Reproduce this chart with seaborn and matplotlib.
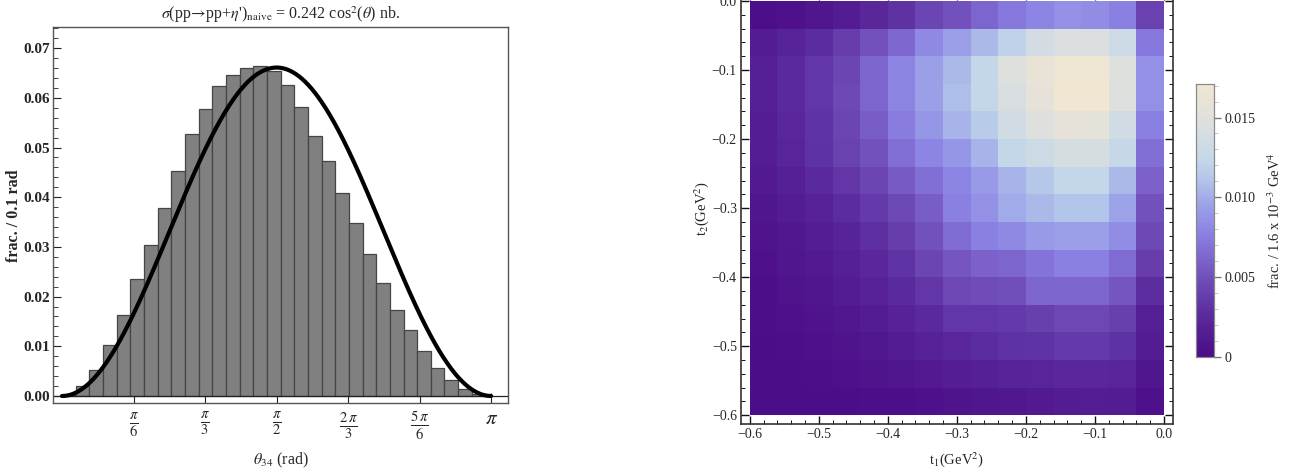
import numpy as np
import pandas as pd
import matplotlib
matplotlib.use("Agg")
import matplotlib.pyplot as plt
import seaborn as sns
from matplotlib.colors import LinearSegmentedColormap
from matplotlib.ticker import MultipleLocator, FixedLocator

# ---------------- data ----------------
# histogram of theta_34, bins of 0.1 rad (last bin ends at pi)
theta_edges = list(np.round(np.arange(0.0, 3.15, 0.1), 1)) + [np.pi]
theta_frac = [0.0002, 0.0021, 0.0053, 0.0102, 0.0164, 0.0235, 0.0304, 0.0379,
              0.0453, 0.0528, 0.0577, 0.0623, 0.0646, 0.0661, 0.0664, 0.0654,
              0.0625, 0.0582, 0.0523, 0.0472, 0.0408, 0.0348, 0.0285, 0.0228,
              0.0174, 0.0132, 0.0091, 0.0056, 0.0032, 0.0014, 0.0005, 0.0001]
curve_amplitude = 0.0661  # peak of the naive cos^2 model curve

x_tick_vals = [np.pi / 6, np.pi / 3, np.pi / 2, 2 * np.pi / 3, 5 * np.pi / 6, np.pi]
x_tick_labels = [r'$\frac{\pi}{6}$', r'$\frac{\pi}{3}$', r'$\frac{\pi}{2}$',
                 r'$\frac{2\,\pi}{3}$', r'$\frac{5\,\pi}{6}$', r'$\pi$']
y_tick_vals = [0.00, 0.01, 0.02, 0.03, 0.04, 0.05, 0.06, 0.07]

# 2D distribution in t1 (columns, -0.6 -> 0) and t2 (rows, 0 -> -0.6), units of 1e-3
t_edges = list(np.round(np.arange(-0.6, 0.001, 0.04), 2))
t2_matrix_e3 = [
    [0.3, 0.5, 0.9, 1.4, 2.4, 3.1, 4.3, 5.1, 6.2, 7.2, 8.0, 8.6, 8.4, 7.7, 4.1],
    [1.4, 2.1, 2.7, 3.8, 5.1, 6.3, 8.2, 9.4, 10.6, 12.0, 13.7, 14.4, 14.4, 13.0, 7.2],
    [1.7, 2.6, 3.4, 4.4, 6.2, 7.9, 9.4, 10.6, 12.3, 14.7, 16.1, 16.8, 16.8, 14.7, 8.6],
    [1.7, 2.6, 3.4, 4.6, 6.2, 7.9, 9.4, 10.8, 12.3, 14.2, 15.7, 17.1, 17.1, 14.7, 8.6],
    [1.5, 2.4, 3.2, 4.3, 5.8, 7.5, 8.9, 10.3, 11.5, 13.5, 14.7, 15.7, 15.6, 13.5, 7.7],
    [1.5, 2.2, 3.1, 4.1, 5.1, 6.8, 8.0, 8.9, 10.3, 12.3, 13.0, 14.0, 14.0, 12.5, 6.8],
    [1.2, 1.7, 2.6, 3.4, 4.4, 5.6, 6.8, 8.0, 9.1, 10.3, 11.3, 12.3, 12.3, 10.6, 6.0],
    [0.9, 1.4, 1.9, 2.7, 3.6, 4.6, 5.8, 7.7, 8.6, 9.9, 10.6, 11.1, 11.1, 9.6, 5.1],
    [0.7, 1.0, 1.5, 2.1, 2.9, 3.8, 5.1, 6.5, 7.7, 8.2, 9.1, 9.4, 9.4, 8.4, 4.6],
    [0.5, 0.9, 1.2, 1.7, 2.4, 3.2, 4.3, 5.3, 6.0, 6.2, 7.0, 7.7, 7.7, 6.5, 3.8],
    [0.3, 0.7, 0.9, 1.4, 1.9, 2.6, 3.4, 4.5, 4.8, 5.0, 6.2, 6.2, 6.2, 5.3, 2.8],
    [0.3, 0.5, 0.7, 1.0, 1.4, 1.9, 2.6, 3.4, 3.4, 3.6, 4.0, 4.5, 4.5, 4.0, 1.6],
    [0.2, 0.3, 0.5, 0.7, 1.0, 1.4, 1.9, 2.4, 2.7, 3.1, 3.2, 3.6, 3.6, 3.1, 1.4],
    [0.2, 0.2, 0.3, 0.5, 0.7, 0.9, 1.2, 1.5, 1.7, 2.1, 2.2, 2.4, 2.4, 2.2, 0.9],
    [0.2, 0.2, 0.2, 0.2, 0.3, 0.3, 0.5, 0.7, 0.9, 1.0, 1.2, 1.4, 1.5, 1.4, 0.5],
]
t_tick_vals = [-0.6, -0.5, -0.4, -0.3, -0.2, -0.1, 0.0]
cbar_max = 0.0171
cbar_ticks = [0, 0.005, 0.010, 0.015]
cbar_tick_labels = ['0', '0.005', '0.010', '0.015']

# ---------------- style ----------------
sns.set_theme(style="white")
plt.rcParams['font.family'] = ['Liberation Serif', 'DejaVu Serif']
plt.rcParams['mathtext.fontset'] = 'stix'
plt.rcParams['axes.unicode_minus'] = True

W, H = 1299, 476
fig = plt.figure(figsize=(W / 100, H / 100), dpi=100)

frame_col = '#555555'

# ---------------- left: histogram ----------------
axL = fig.add_axes([53 / W, (H - 403.3) / H, (508 - 53) / W, (403.3 - 27.3) / H])
centers = [(a + b) / 2 for a, b in zip(theta_edges[:-1], theta_edges[1:])]
sns.histplot(x=centers, weights=theta_frac, bins=theta_edges, stat='count',
             color='#808080', edgecolor='#454545', linewidth=0.9, alpha=1.0, ax=axL)
theta_grid = np.linspace(0, np.pi, 400)
sns.lineplot(x=theta_grid, y=curve_amplitude * np.sin(theta_grid) ** 2,
             color='black', linewidth=3.0, ax=axL)
axL.axhline(0, color='#222222', linewidth=0.9, zorder=1)
axL.set_xlim(-0.066, 3.265)
axL.set_ylim(-0.00147, 0.0742)
axL.set_xticks(x_tick_vals)
axL.set_xticklabels(x_tick_labels, fontsize=15)
axL.set_yticks(y_tick_vals)
axL.set_yticklabels([f'{v:.2f}' for v in y_tick_vals], fontsize=11, fontweight='bold')
axL.yaxis.set_minor_locator(MultipleLocator(0.002))
axL.tick_params(axis='y', which='major', direction='in', length=6, width=0.8,
                color='#222222', left=True, right=False, pad=2)
axL.tick_params(axis='y', which='minor', direction='in', length=3.5, width=0.6,
                color='#222222', left=True, right=False)
axL.tick_params(axis='x', which='major', direction='in', length=7, width=0.8,
                color='#222222', bottom=True, top=False, pad=5)
axL.set_xlabel(r'$\theta_{34}$ (rad)', fontsize=11.5)
axL.xaxis.set_label_coords(0.5, -0.125)
axL.set_ylabel('frac. / 0.1 rad', fontsize=11.5, fontweight='bold')
axL.yaxis.set_label_coords(-0.068, 0.5)
axL.set_title(r"$\sigma$(pp$\!\rightarrow\!$pp+$\eta$')$_{\rm naive}$ = 0.242 cos$^2$($\theta$) nb.",
              fontsize=11.5, pad=6)
for s in axL.spines.values():
    s.set_color(frame_col)
    s.set_linewidth(1.0)

# ---------------- right: 2D heatmap ----------------
cmap = LinearSegmentedColormap.from_list('mma_purple', [
    (0.00, '#4b0c87'), (0.15, '#5a2a9c'), (0.30, '#7352bd'), (0.45, '#8a80e2'),
    (0.55, '#9b9fe8'), (0.65, '#b2c5ea'), (0.72, '#c3d7e8'), (0.85, '#dcdfdf'),
    (1.00, '#f0e6d2')])

df = pd.DataFrame(np.array(t2_matrix_e3) * 1e-3)
top_px = 1 - 0.315 * 27.58
axR = fig.add_axes([741 / W, (H - 424) / H, (1172.7 - 741) / W, (424 - top_px) / H])
cax = fig.add_axes([1196.3 / W, (H - 357) / H, 18 / W, 273 / H])
sns.heatmap(df, ax=axR, cmap=cmap, vmin=0, vmax=cbar_max, cbar=True, cbar_ax=cax,
            xticklabels=False, yticklabels=False, linewidths=0)

n = len(t_edges) - 1
step = 0.04


def pos_x(t):
    return (t - t_edges[0]) / step


def pos_y(t):
    return (t_edges[-1] - t) / step


axR.set_xlim(-0.315, n + 0.315)
axR.set_ylim(n + 0.315, -0.315)
axR.xaxis.set_major_locator(FixedLocator([pos_x(t) for t in t_tick_vals]))
axR.xaxis.set_minor_locator(FixedLocator([pos_x(t) for t in np.arange(-0.6, 0.001, 0.02)]))
axR.yaxis.set_major_locator(FixedLocator([pos_y(t) for t in t_tick_vals]))
axR.yaxis.set_minor_locator(FixedLocator([pos_y(t) for t in np.arange(-0.6, 0.001, 0.02)]))
lab = [f'{t:.1f}'.replace('-', '\u2212') if t != 0 else '0.0' for t in t_tick_vals]
axR.set_xticklabels(lab, fontsize=10)
axR.set_yticklabels(lab, fontsize=10, rotation=0)
axR.tick_params(which='major', direction='in', length=6, width=1.0, color='#111111',
                bottom=True, top=True, left=True, right=True, pad=3)
axR.tick_params(which='minor', direction='in', length=3, width=0.7, color='#111111',
                bottom=True, top=True, left=True, right=True)
axR.set_xlabel(r't$_1$(GeV$^2$)', fontsize=10.5)
axR.xaxis.set_label_coords(0.5, -0.061)
axR.set_ylabel(r't$_2$(GeV$^2$)', fontsize=10.5)
axR.yaxis.set_label_coords(-0.069, 0.5)
for s in axR.spines.values():
    s.set_visible(True)
    s.set_color('#333333')
    s.set_linewidth(1.2)

cax.set_yticks(cbar_ticks)
cax.set_yticklabels(cbar_tick_labels, fontsize=10)
cax.yaxis.set_minor_locator(MultipleLocator(0.001))
cax.tick_params(which='major', direction='out', length=5, width=1.0, color='#777777', pad=2)
cax.tick_params(which='minor', direction='out', length=3, width=0.6, color='#bbbbbb')
cax.set_ylabel(r'frac. / 1.6 x 10$^{-3}$ GeV$^4$', fontsize=10.5)
cax.yaxis.set_label_coords(3.9, 0.5)
for s in cax.spines.values():
    s.set_visible(True)
    s.set_color('#888888')
    s.set_linewidth(0.8)

fig.savefig('out.png', dpi=100)
